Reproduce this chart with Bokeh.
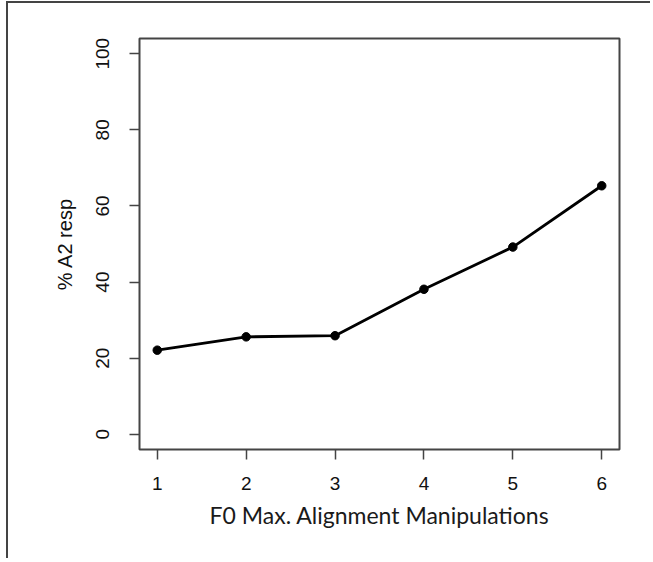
from bokeh.plotting import figure
from bokeh.models import Range1d, FixedTicker
from bokeh.embed import file_html
from bokeh.resources import INLINE

# data
x_values = [1, 2, 3, 4, 5, 6]
y_values = [22.1, 25.6, 25.9, 38.1, 49.2, 65.3]
x_ticks = [1, 2, 3, 4, 5, 6]
y_ticks = [0, 20, 40, 60, 80, 100]
x_title = "F0 Max. Alignment Manipulations"
y_title = "% A2 resp"

p = figure(width=644, height=557, output_backend="svg", toolbar_location=None,
           x_range=Range1d(0.8, 6.2), y_range=Range1d(-4, 104),
           min_border_left=131, min_border_right=33, min_border_top=35, min_border_bottom=111)
p.styles = {"border-left": "2px solid #444", "border-top": "2px solid #444",
            "margin-left": "6px", "margin-top": "1px"}

p.xgrid.visible = False
p.ygrid.visible = False
p.outline_line_color = "#444444"
p.outline_line_width = 2
p.outline_line_alpha = 1
p.background_fill_color = "white"
p.border_fill_color = "white"

p.line(x_values, y_values, line_color="black", line_width=2.8)
p.scatter(x_values, y_values, size=8.5, fill_color="black", line_color="black")

for ax in (p.xaxis[0], p.yaxis[0]):
    ax.axis_line_color = None
    ax.major_tick_line_color = "#444444"
    ax.major_tick_line_width = 1.5
    ax.major_tick_out = 10
    ax.major_tick_in = 0
    ax.minor_tick_line_color = None
    ax.major_label_text_font = "Liberation Sans"
    ax.major_label_text_font_size = "19px"
    ax.major_label_text_color = "#111111"

p.xaxis.ticker = FixedTicker(ticks=x_ticks)
p.yaxis.ticker = FixedTicker(ticks=y_ticks)
p.xaxis.major_label_standoff = 17
p.yaxis.major_label_standoff = 20
p.yaxis.major_label_orientation = "vertical"

p.xaxis.axis_label = x_title
p.xaxis.axis_label_text_font = "Lato"
p.xaxis.axis_label_text_font_size = "23px"
p.xaxis.axis_label_text_font_style = "normal"
p.xaxis.axis_label_text_color = "#1a1a1a"
p.xaxis.axis_label_standoff = 8

p.yaxis.axis_label = y_title
p.yaxis.axis_label_text_font = "Liberation Sans"
p.yaxis.axis_label_text_font_size = "20px"
p.yaxis.axis_label_text_font_style = "normal"
p.yaxis.axis_label_text_color = "#111111"
p.yaxis.axis_label_standoff = 18

open("out.html", "w").write(file_html(p, INLINE))
